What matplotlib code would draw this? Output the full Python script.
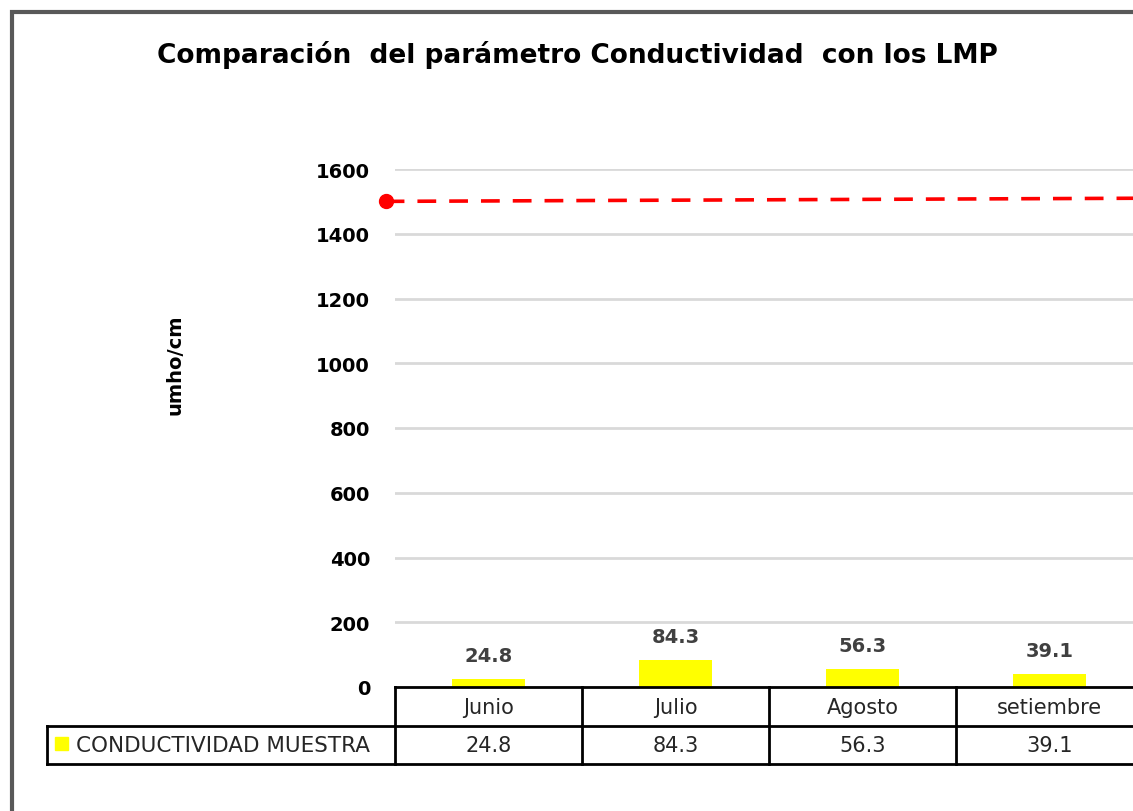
import matplotlib.pyplot as plt
from matplotlib.patches import Rectangle
from matplotlib.lines import Line2D

months = ['Junio', 'Julio', 'Agosto', 'setiembre']
conductividad = [24.8, 84.3, 56.3, 39.1]
lmp_x = [-0.55, 3.6]
lmp_y = [1500, 1510]
yticks = [0, 200, 400, 600, 800, 1000, 1200, 1400, 1600]

W, H = 1133, 812

def fx(px):
  return px / W

def fy(py):
  return 1 - py / H

fig = plt.figure(figsize=(W / 100, H / 100), dpi=100)
ax = fig.add_axes([fx(395), fy(688), fx(1143) - fx(395), fy(170) - fy(688)])

x = list(range(len(months)))
ax.bar(x, conductividad, width=0.39, color='#ffff00', zorder=2)
for xi, v in zip(x, conductividad):
  ax.annotate('%.1f' % v, (xi, v), xytext=(0, 10), textcoords='offset points',
    ha='center', va='bottom', fontsize=14, fontweight='bold', color='#404040')

ax.plot(lmp_x, lmp_y, color='#ff0000', lw=2.6, dashes=(5.2, 3.6),
  clip_on=False, zorder=3)
ax.plot(lmp_x[:1], lmp_y[:1], 'o', color='#ff0000', ms=10, clip_on=False, zorder=4)

ax.set_xlim(-0.5, len(months) - 0.5)
ax.set_ylim(0, 1600)
ax.set_yticks(yticks)
ax.set_yticklabels([str(t) for t in yticks], fontsize=14, fontweight='bold')
ax.tick_params(axis='y', length=0, pad=18)
ax.set_xticks([])
ax.grid(axis='y', color='#d9d9d9', lw=2)
ax.set_axisbelow(True)
for s in ax.spines.values():
  s.set_visible(False)

ax.set_ylabel('umho/cm', fontsize=14, fontweight='bold')
ax.yaxis.set_label_coords(-(395 - 184) / 748, (688 - 365) / 518)

fig.text(fx(577), fy(55), 'Comparación  del parámetro Conductividad  con los LMP',
  ha='center', va='center', fontsize=19, fontweight='bold')

# data table under the plot
lw = 2
col_edges = [395 + 187 * i for i in range(len(months) + 1)]
for y in [688, 727, 765]:
  x0 = 395 if y == 688 else 47
  fig.add_artist(Line2D([fx(x0), fx(1143)], [fy(y), fy(y)], color='black', lw=lw))
for xe in col_edges:
  fig.add_artist(Line2D([fx(xe), fx(xe)], [fy(688), fy(765)], color='black', lw=lw))
fig.add_artist(Line2D([fx(47), fx(47)], [fy(727), fy(765)], color='black', lw=lw))
for i, (m, v) in enumerate(zip(months, conductividad)):
  cx = (col_edges[i] + col_edges[i + 1]) / 2
  fig.text(fx(cx), fy(708), m, ha='center', va='center', fontsize=15, color='#262626')
  fig.text(fx(cx), fy(746), '%.1f' % v, ha='center', va='center', fontsize=15, color='#262626')
fig.add_artist(Rectangle((fx(55), fy(751)), fx(13), 13 / H, color='#ffff00'))
fig.text(fx(76), fy(746), 'CONDUCTIVIDAD MUESTRA', ha='left', va='center',
  fontsize=15.5, color='#262626')

# chart frame
fig.add_artist(Rectangle((fx(12), -0.1), 1.2, fy(13) + 0.1, fill=False,
  edgecolor='#595959', lw=3))

fig.savefig('out.png', dpi=100)
